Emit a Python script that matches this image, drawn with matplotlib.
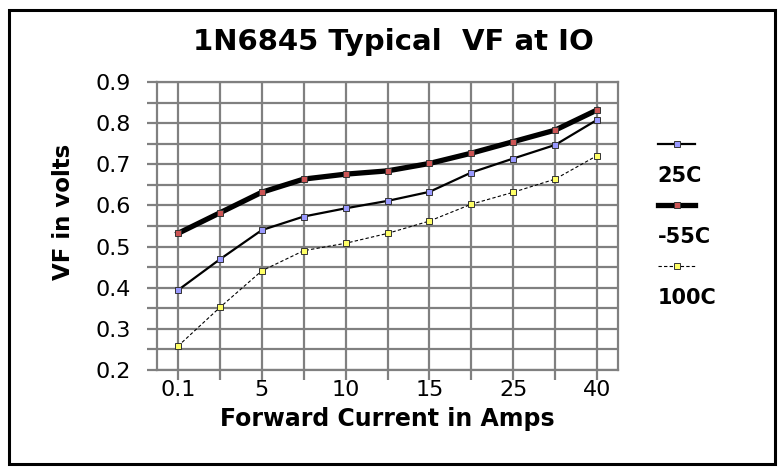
import numpy as np
import matplotlib
matplotlib.use('Agg')
import matplotlib.pyplot as plt
from matplotlib.patches import Rectangle
from matplotlib.lines import Line2D

# forward current categories (Amps), every other one labelled on the chart
categories = ['0.1', '2.5', '5', '7.5', '10', '12.5', '15', '20', '25', '30', '40']

# VF readings (volts) for each temperature
vf_25c = [0.394, 0.469, 0.540, 0.573, 0.593, 0.611, 0.633, 0.680, 0.714, 0.747, 0.808]
vf_m55c = [0.532, 0.582, 0.632, 0.664, 0.676, 0.684, 0.702, 0.727, 0.755, 0.783, 0.832]
vf_100c = [0.258, 0.352, 0.441, 0.490, 0.508, 0.532, 0.562, 0.603, 0.632, 0.664, 0.721]

series_names = ['25C', '-55C', '100C']

grid_col = '#808080'

fig = plt.figure(figsize=(7.83, 4.68), dpi=100)
ax = fig.add_axes([157/783, 1 - 370/468, (618 - 157)/783, (370 - 82)/468])

x = np.arange(len(categories))

l1, = ax.plot(x, vf_25c, color='black', lw=1.6, marker='s', ms=4.5,
              mfc='#9999ff', mec='#333333', mew=0.7, zorder=3)
l2, = ax.plot(x, vf_m55c, color='black', lw=3.8, marker='s', ms=4.5,
              mfc='#cc5555', mec='#333333', mew=0.7, zorder=4)
l3, = ax.plot(x, vf_100c, color='black', lw=0.8, ls=(0, (3, 2)), marker='s', ms=4.5,
              mfc='#ffff66', mec='#333333', mew=0.7, zorder=3)

ax.set_xlim(-0.5, len(categories) - 0.5)
ax.set_ylim(0.2, 0.9)

ax.set_xticks(x)
ax.set_xticklabels([c if i % 2 == 0 else '' for i, c in enumerate(categories)])
ax.set_yticks(np.arange(0.2, 0.91, 0.1))
ax.set_yticks(np.arange(0.25, 0.9, 0.1), minor=True)
ax.yaxis.set_major_formatter(matplotlib.ticker.FormatStrFormatter('%.1f'))

ax.grid(True, which='both', color=grid_col, lw=1.6)
ax.set_axisbelow(True)
for s in ax.spines.values():
    s.set_color(grid_col)
    s.set_linewidth(1.6)
ax.tick_params(which='both', direction='out', length=7, width=1.6, color=grid_col,
               labelsize=16)
ax.tick_params(axis='y', pad=12)
ax.tick_params(axis='x', pad=0)

ax.set_xlabel('Forward Current in Amps', fontsize=17, fontweight='bold', labelpad=5)
ax.set_ylabel('VF in volts', fontsize=16.5, fontweight='bold')
ax.yaxis.set_label_coords(-0.178, 0.55)
fig.suptitle('1N6845 Typical  VF at IO', fontsize=21, fontweight='bold',
             x=0.503, y=0.91, va='center')

# legend: sample line above each label
blank = Line2D([], [], alpha=0)
handles = []
labels = []
for h, name in zip([l1, l2, l3], series_names):
    handles += [h, blank]
    labels += ['', name]
fig.legend(handles, labels, loc='upper left', bbox_to_anchor=(639/783, 1 - 117/468),
           frameon=False, handlelength=1.8, handletextpad=-1.8, labelspacing=0.5,
           numpoints=1, prop={'size': 15, 'weight': 'bold'})

# outer border
fig.patches.append(Rectangle((9/783, 4/468), (775 - 9)/783, (464 - 10)/468,
                             transform=fig.transFigure, fill=False,
                             edgecolor='black', lw=2.2))

fig.savefig('out.png', dpi=100)
